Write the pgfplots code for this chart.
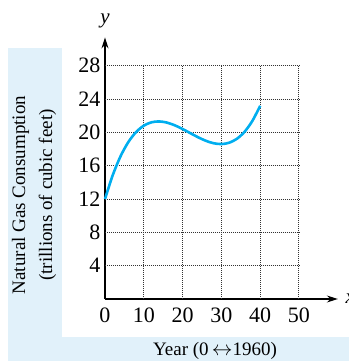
\documentclass[border=0pt]{standalone}
\usepackage{pgfplots}
\pgfplotsset{compat=1.18}
\usepackage{fontspec}
\setmainfont{Liberation Serif}
\usetikzlibrary{arrows.meta}
\definecolor{panel}{HTML}{E1F1FA}
\definecolor{curve}{HTML}{00AEEF}
\begin{document}
\begin{tikzpicture}
\path[use as bounding box] (-105bp,-62bp) rectangle (244bp,299bp);
\fill[panel] (-97bp,-62bp) rectangle (-43bp,251bp);
\fill[panel] (-97bp,-62bp) rectangle (244bp,-38bp);
\begin{axis}[
  anchor=origin, at={(0,0)},
  x=3.88bp, y=8.33bp,
  xmin=0, xmax=60, ymin=0, ymax=31.4,
  axis lines=left,
  axis line style={line width=1.1bp, -{Stealth[length=11bp,width=7bp]}},
  xtick={0,10,...,50}, ytick={4,8,...,28},
  major tick length=0pt,
  tick label style={font=\fontsize{22bp}{26bp}\selectfont},
  /pgf/number format/assume math mode=true,
  xticklabel style={yshift=-5bp},
  yticklabel style={xshift=-1bp},
  clip=false,
]
\foreach \xx in {10,20,30,40,50} {
  \edef\tmp{\noexpand\draw[densely dotted, black!80, line width=1bp] (axis cs:\xx,0) -- (axis cs:\xx,28);}
  \tmp
}
\foreach \yy in {4,8,...,28} {
  \edef\tmp{\noexpand\draw[densely dotted, black!80, line width=1bp] (axis cs:0,\yy) -- (axis cs:50,\yy);}
  \tmp
}
\addplot[curve, line width=2.6bp, smooth] coordinates {
(0,12) (2,14.874) (4,17.129) (6,18.828) (8,20.034) (10,20.809) (12,21.216)
(14,21.315) (16,21.173) (18,20.848) (20,20.406) (22,19.907) (24,19.415)
(26,18.991) (28,18.698) (30,18.600) (32,18.759) (34,19.233) (36,20.088)
(38,21.393) (40,23.198)
};
\end{axis}
\node[font=\fontsize{21bp}{24bp}\selectfont\itshape] at (0bp,278bp) {y};
\node[font=\fontsize{21bp}{24bp}\selectfont\itshape, anchor=west] at (237bp,0bp) {x};
\node[rotate=90, align=center, font=\fontsize{19bp}{27bp}\selectfont] at (-71bp,104bp) {Natural Gas Consumption\\(trillions of cubic feet)};
\node[font=\fontsize{19bp}{24bp}\selectfont] at (110bp,-52bp) {Year (0\,$\leftrightarrow$1960)};
\end{tikzpicture}
\end{document}
